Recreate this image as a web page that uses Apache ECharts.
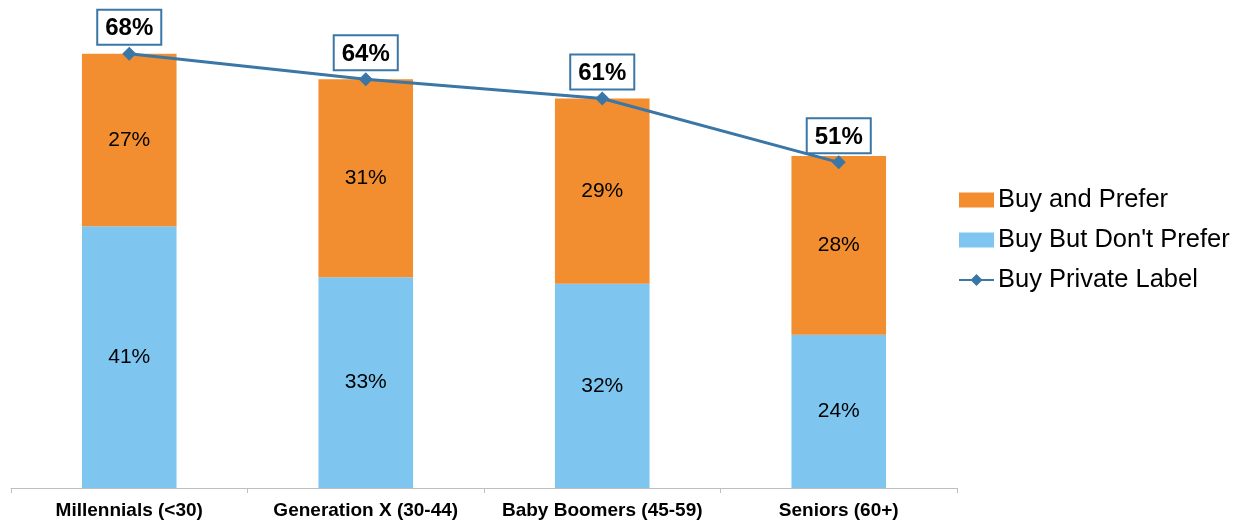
<!DOCTYPE html>
<html><head><meta charset="utf-8">
<script src="https://cdn.jsdelivr.net/npm/echarts@6/dist/echarts.min.js"></script>
<style>html,body{margin:0;padding:0;background:#fff}#c{width:1240px;height:520px}</style>
</head><body><div id="c"></div>
<script>
const categories = ['Millennials (<30)', 'Generation X (30-44)', 'Baby Boomers (45-59)', 'Seniors (60+)'];
const buyNotPrefer = [41, 33, 32, 24];
const buyPrefer = [27, 31, 29, 28];
const buyPrivate = [68, 64, 61, 51];

const chart = echarts.init(document.getElementById('c'));
chart.setOption({
  animation: false,
  textStyle: { fontFamily: 'Liberation Sans, Arial, sans-serif' },
  grid: { left: 11, right: 283, top: 41, bottom: 31 },
  legend: {
    orient: 'vertical', left: 958, top: 187, itemGap: 14, padding: 0,
    itemWidth: 35, itemHeight: 15,
    textStyle: { fontSize: 25.5, color: '#000', fontFamily: 'Liberation Sans, Arial, sans-serif', padding: [0, 0, 0, -1] },
    data: [
      { name: 'Buy and Prefer', icon: 'rect' },
      { name: "Buy But Don't Prefer", icon: 'rect' },
      { name: 'Buy Private Label' }
    ]
  },
  xAxis: {
    type: 'category', data: categories,
    axisLine: { lineStyle: { color: '#BFBFBF', width: 1 } },
    axisTick: { show: true, length: 5, lineStyle: { color: '#BFBFBF' } },
    axisLabel: { color: '#000', fontWeight: 'bold', fontSize: 19, margin: 13, interval: 0, hideOverlap: false,
      fontFamily: 'Liberation Sans, Arial, sans-serif' }
  },
  yAxis: { type: 'value', min: 0, max: 70, show: false, splitLine: { show: false } },
  series: [
    {
      name: "Buy But Don't Prefer", type: 'bar', stack: 'a', data: buyNotPrefer,
      barWidth: '40%', itemStyle: { color: '#7EC6F0' },
      label: { show: true, position: 'inside', formatter: '{c}%', color: '#000', fontSize: 21 }
    },
    {
      name: 'Buy and Prefer', type: 'bar', stack: 'a', data: buyPrefer,
      barWidth: '40%', itemStyle: { color: '#F28E2F' },
      label: { show: true, position: 'inside', formatter: '{c}%', color: '#000', fontSize: 21 }
    },
    {
      name: 'Buy Private Label', type: 'line', data: buyPrivate,
      symbol: 'diamond', symbolSize: 14,
      lineStyle: { color: '#3A76A6', width: 3 }, itemStyle: { color: '#3A76A6' },
      label: {
        show: true, position: 'top', distance: 3, formatter: '{c}%',
        color: '#000', fontWeight: 'bold', fontSize: 24,
        backgroundColor: '#fff', borderColor: '#3A76A6', borderWidth: 2,
        padding: [6, 7, 3, 7]
      },
      z: 5
    }
  ]
});
</script></body></html>
